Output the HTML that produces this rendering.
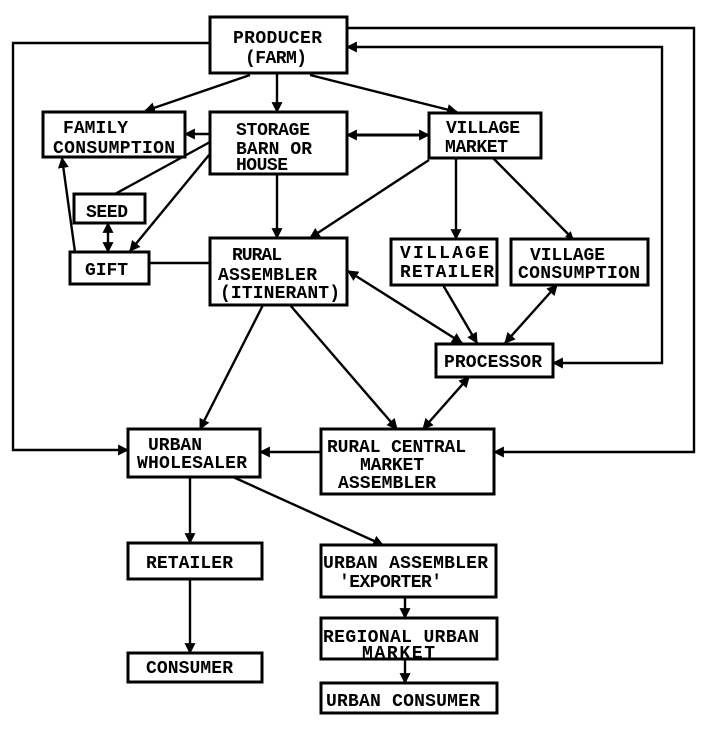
<!DOCTYPE html>
<html><head><meta charset="utf-8"><style>
html,body{margin:0;padding:0;background:#fff;}
svg{display:block;}
text{font-family:"Liberation Mono",monospace;font-weight:bold;font-size:18px;fill:#000;}
</style></head><body>
<svg width="706" height="733" viewBox="0 0 706 733" xmlns="http://www.w3.org/2000/svg">
<defs>
<marker id="a" viewBox="0 0 10 10" refX="9" refY="5" markerUnits="userSpaceOnUse" markerWidth="11" markerHeight="11" orient="auto-start-reverse"><path d="M0,0 L10,5 L0,10 z" fill="#000"/></marker>
<marker id="s" viewBox="0 0 10 10" refX="9" refY="5" markerUnits="userSpaceOnUse" markerWidth="8" markerHeight="8" orient="auto-start-reverse"><path d="M0,0 L10,5 L0,10 z" fill="#000"/></marker>
</defs>
<g fill="none" stroke="#000" stroke-width="2.4">
<polyline points="210,43 13,43 13,450 128,450" marker-end="url(#a)"/>
<polyline points="347,28 694,28 694,452 494,452" marker-end="url(#a)"/>
<polyline points="347,47 662,47 662,363 553,363" marker-start="url(#a)" marker-end="url(#a)"/>
<line x1="250" y1="75" x2="145" y2="111" marker-end="url(#a)"/>
<line x1="277" y1="73" x2="277" y2="112" marker-end="url(#a)"/>
<line x1="310" y1="75" x2="457" y2="112" marker-end="url(#a)"/>
<line x1="210" y1="134" x2="185" y2="134" marker-end="url(#a)"/>
<line x1="347" y1="135" x2="429" y2="135" marker-start="url(#a)" marker-end="url(#a)" stroke-width="3"/>
<line x1="210" y1="142" x2="115" y2="194"/>
<line x1="209" y1="155" x2="130" y2="251" marker-end="url(#a)"/>
<line x1="75" y1="252" x2="62" y2="158" marker-end="url(#a)"/>
<line x1="108" y1="223" x2="108" y2="252" marker-start="url(#a)" marker-end="url(#a)"/>
<line x1="149" y1="263" x2="210" y2="263"/>
<line x1="277" y1="174" x2="277" y2="238" marker-end="url(#a)"/>
<line x1="429" y1="160" x2="310" y2="238" marker-end="url(#a)"/>
<line x1="456" y1="158" x2="456" y2="239" marker-end="url(#a)"/>
<line x1="493" y1="158" x2="573" y2="239" marker-end="url(#s)"/>
<line x1="348" y1="271" x2="462" y2="343" marker-start="url(#a)" marker-end="url(#a)"/>
<line x1="443" y1="285" x2="477" y2="343" marker-end="url(#a)"/>
<line x1="557" y1="285" x2="505" y2="343" marker-start="url(#a)" marker-end="url(#a)"/>
<line x1="469" y1="377" x2="423" y2="429" marker-start="url(#a)" marker-end="url(#a)"/>
<line x1="290" y1="305" x2="397" y2="429" marker-end="url(#a)"/>
<line x1="263" y1="305" x2="200" y2="429" marker-end="url(#a)"/>
<line x1="321" y1="452" x2="260" y2="452" marker-end="url(#a)"/>
<line x1="190" y1="477" x2="190" y2="543" marker-end="url(#a)"/>
<line x1="233" y1="477" x2="383" y2="545" marker-end="url(#a)"/>
<line x1="190" y1="579" x2="190" y2="653" marker-end="url(#a)"/>
<line x1="405" y1="597" x2="405" y2="618" marker-end="url(#a)"/>
<line x1="405" y1="659" x2="405" y2="683" marker-end="url(#a)"/>
</g>
<g fill="#fff" stroke="#000" stroke-width="3">
<rect x="210" y="17" width="137" height="56"/>
<rect x="43" y="112" width="142" height="45"/>
<rect x="210" y="112" width="137" height="62"/>
<rect x="429" y="113" width="112" height="45"/>
<rect x="74" y="194" width="71" height="29"/>
<rect x="70" y="252" width="79" height="32"/>
<rect x="210" y="238" width="137" height="67"/>
<rect x="391" y="239" width="106" height="46"/>
<rect x="511" y="239" width="137" height="46"/>
<rect x="436" y="344" width="117" height="33"/>
<rect x="321" y="429" width="173" height="65"/>
<rect x="128" y="429" width="132" height="48"/>
<rect x="128" y="543" width="134" height="36"/>
<rect x="128" y="653" width="134" height="29"/>
<rect x="321" y="545" width="175" height="52"/>
<rect x="321" y="618" width="176" height="41"/>
<rect x="321" y="683" width="176" height="30"/>
</g>
<g>
<text x="233" y="43" textLength="89" lengthAdjust="spacing">PRODUCER</text>
<text x="245" y="63" textLength="62" lengthAdjust="spacing">(FARM)</text>
<text x="63" y="133" textLength="65" lengthAdjust="spacing">FAMILY</text>
<text x="53" y="153" textLength="122" lengthAdjust="spacing">CONSUMPTION</text>
<text x="236" y="135" textLength="74" lengthAdjust="spacing">STORAGE</text>
<text x="236" y="154" textLength="76" lengthAdjust="spacing">BARN OR</text>
<text x="236" y="170" textLength="52" lengthAdjust="spacing">HOUSE</text>
<text x="446" y="133" textLength="74" lengthAdjust="spacing">VILLAGE</text>
<text x="445" y="152" textLength="63" lengthAdjust="spacing">MARKET</text>
<text x="86" y="217" textLength="42" lengthAdjust="spacing">SEED</text>
<text x="85" y="275" textLength="43" lengthAdjust="spacing">GIFT</text>
<text x="232" y="260" textLength="50" lengthAdjust="spacing">RURAL</text>
<text x="218" y="280" textLength="99" lengthAdjust="spacing">ASSEMBLER</text>
<text x="220" y="298" textLength="120" lengthAdjust="spacing">(ITINERANT)</text>
<text x="400" y="258" textLength="89" lengthAdjust="spacing">VILLAGE</text>
<text x="400" y="277" textLength="94" lengthAdjust="spacing">RETAILER</text>
<text x="530" y="260" textLength="75" lengthAdjust="spacing">VILLAGE</text>
<text x="518" y="278" textLength="122" lengthAdjust="spacing">CONSUMPTION</text>
<text x="444" y="367" textLength="98" lengthAdjust="spacing">PROCESSOR</text>
<text x="327" y="452" textLength="139" lengthAdjust="spacing">RURAL CENTRAL</text>
<text x="360" y="470" textLength="64" lengthAdjust="spacing">MARKET</text>
<text x="338" y="488" textLength="98" lengthAdjust="spacing">ASSEMBLER</text>
<text x="148" y="450" textLength="54" lengthAdjust="spacing">URBAN</text>
<text x="137" y="468" textLength="110" lengthAdjust="spacing">WHOLESALER</text>
<text x="146" y="568" textLength="87" lengthAdjust="spacing">RETAILER</text>
<text x="146" y="673" textLength="87" lengthAdjust="spacing">CONSUMER</text>
<text x="323" y="568" textLength="165" lengthAdjust="spacing">URBAN ASSEMBLER</text>
<text x="339" y="587" textLength="103" lengthAdjust="spacing">'EXPORTER'</text>
<text x="323" y="642" textLength="156" lengthAdjust="spacing">REGIONAL URBAN</text>
<text x="362" y="658" textLength="73" lengthAdjust="spacing">MARKET</text>
<text x="326" y="706" textLength="154" lengthAdjust="spacing">URBAN CONSUMER</text>
</g>
</svg>
</body></html>
